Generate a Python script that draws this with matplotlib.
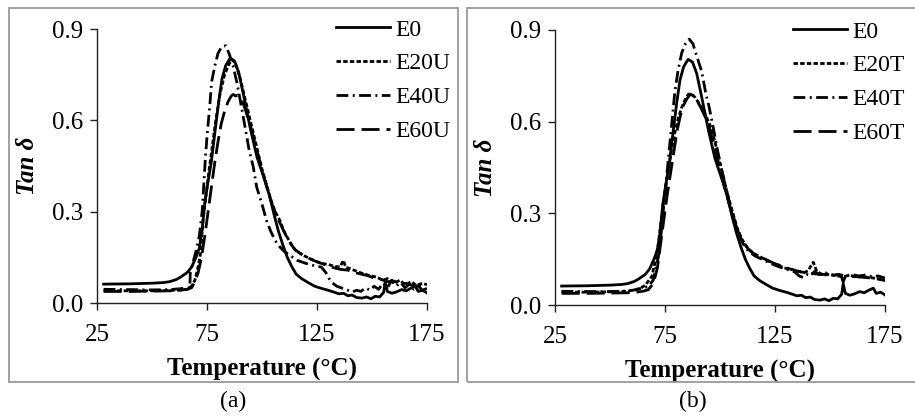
import matplotlib
matplotlib.use("Agg")
import matplotlib.pyplot as plt
from matplotlib.patches import Rectangle

plt.rcParams['font.family'] = ['Liberation Serif', 'DejaVu Serif']
plt.rcParams['lines.scale_dashes'] = False

# ---------------- data ----------------
# E0 (shared by both panels)
T_E0 = [28, 40, 50, 55, 58, 61, 63, 66, 68, 70, 71.5, 72.7, 74, 75.5, 77, 78.8, 80.3, 81.8, 83.5, 85.5,
        87.5, 89.4, 91.7, 94.7, 97.7, 100, 101.5, 103.5, 105.5, 107.5, 109.5, 111.5, 113.5, 115.5, 118,
        121, 124, 127, 130, 133, 135, 137, 139, 141, 143, 145.5, 147.5, 149.5, 151.5, 153.5, 155.3, 156,
        157, 159, 161, 163.5, 165.5, 167.5, 169.7, 171, 173, 175]
v_E0 = [0.062, 0.063, 0.065, 0.067, 0.07, 0.077, 0.085, 0.1, 0.118, 0.15, 0.18, 0.235, 0.33, 0.40, 0.465,
        0.573, 0.66, 0.736, 0.78, 0.804, 0.795, 0.758, 0.68, 0.573, 0.48, 0.43, 0.398, 0.35, 0.29, 0.235,
        0.19, 0.15, 0.12, 0.095, 0.08, 0.067, 0.055, 0.048, 0.042, 0.035, 0.03, 0.032, 0.024, 0.026, 0.018,
        0.016, 0.02, 0.014, 0.022, 0.02, 0.035, 0.07, 0.038, 0.032, 0.036, 0.044, 0.04, 0.048, 0.055, 0.038,
        0.042, 0.033]

# Panel (a)
T_E20U = [28, 40, 50, 58, 63, 66, 68, 69.5, 71, 72, 73.2, 74.5, 76, 77.5, 79, 81, 83, 85, 86.5, 88, 90, 92,
          94, 96, 98, 100, 102, 104, 106, 108.2, 110, 112.7, 115, 117.3, 120, 122, 124.9, 127, 130, 133,
          135.5, 137, 138, 141, 144.5, 148, 152, 155, 157, 160, 162.7, 165, 168, 170, 173, 175]
v_E20U = [0.04, 0.04, 0.04, 0.041, 0.043, 0.045, 0.055, 0.075, 0.12, 0.16, 0.27, 0.35, 0.44, 0.52, 0.6,
          0.69, 0.75, 0.785, 0.80, 0.785, 0.74, 0.68, 0.62, 0.56, 0.5, 0.44, 0.39, 0.34, 0.3, 0.27, 0.235,
          0.2, 0.175, 0.163, 0.152, 0.145, 0.136, 0.13, 0.127, 0.12, 0.119, 0.14, 0.118, 0.11, 0.1, 0.092,
          0.085, 0.075, 0.08, 0.065, 0.075, 0.06, 0.07, 0.058, 0.065, 0.06]

T_E40U = [28, 40, 50, 58, 63, 66, 67.2, 67.4, 68.5, 70, 71.5, 72.8, 74.3, 75, 76.4, 77.1, 78.6, 80, 81.7,
          83.5, 85, 86.8, 88.5, 90, 91.5, 93, 94.2, 96, 97.6, 99.9, 102.1, 104, 106, 108, 110, 113, 116,
          120, 124, 127, 129, 130.5, 132, 134, 136, 138, 141, 143, 145, 147, 149, 151, 153, 155, 157, 159,
          161, 163, 165, 167, 169, 171, 173, 175]
v_E40U = [0.045, 0.044, 0.043, 0.044, 0.047, 0.05, 0.05, 0.1, 0.13, 0.17, 0.22, 0.3, 0.48, 0.546, 0.66,
          0.727, 0.78, 0.82, 0.842, 0.845, 0.82, 0.78, 0.727, 0.67, 0.61, 0.55, 0.50, 0.448, 0.38, 0.327,
          0.27, 0.235, 0.205, 0.185, 0.17, 0.155, 0.14, 0.13, 0.122, 0.118, 0.1, 0.08, 0.066, 0.055, 0.05,
          0.045, 0.036, 0.042, 0.038, 0.05, 0.042, 0.055, 0.045, 0.065, 0.05, 0.075, 0.055, 0.068, 0.05,
          0.062, 0.045, 0.055, 0.042, 0.048]

T_E60U = [28, 40, 50, 58, 63, 66, 68, 69.5, 71, 72.5, 74, 75.5, 77, 78.5, 80, 81.5, 83, 84.5, 86, 87, 88,
          89, 90.5, 92, 93.5, 95, 97, 99, 101, 103, 105, 107, 109, 111, 113, 115, 118, 121, 124, 127, 130,
          133, 136, 139, 142, 145, 148, 151, 154, 157, 160, 163, 166, 169, 172, 175]
v_E60U = [0.038, 0.038, 0.039, 0.04, 0.042, 0.045, 0.05, 0.07, 0.1, 0.15, 0.22, 0.3, 0.38, 0.46, 0.53,
          0.59, 0.63, 0.66, 0.68, 0.685, 0.68, 0.683, 0.67, 0.645, 0.61, 0.575, 0.52, 0.465, 0.41, 0.36,
          0.315, 0.28, 0.25, 0.22, 0.195, 0.175, 0.16, 0.148, 0.138, 0.13, 0.122, 0.115, 0.11, 0.108, 0.1,
          0.095, 0.09, 0.082, 0.078, 0.07, 0.072, 0.062, 0.065, 0.055, 0.058, 0.052]

# Panel (b)
T_E20T = [28, 40, 50, 58, 61.4, 64, 66, 69, 70.5, 72, 73.5, 75, 76.5, 78, 79.5, 81, 82.5, 84, 85.6, 87,
          88.6, 90, 91.7, 93.5, 95.4, 97.5, 99.5, 101.5, 103.5, 105.5, 107.6, 110, 112.2, 115, 118.2, 121,
          124.2, 127, 130, 133.3, 136, 138, 140, 142.4, 144, 147, 150, 153, 156, 159, 162, 165, 168, 171,
          174.2, 175]
v_E20T = [0.042, 0.042, 0.043, 0.045, 0.05, 0.055, 0.065, 0.093, 0.14, 0.2, 0.29, 0.37, 0.44, 0.51, 0.565,
          0.61, 0.645, 0.67, 0.69, 0.69, 0.68, 0.665, 0.645, 0.62, 0.59, 0.54, 0.48, 0.42, 0.36, 0.31,
          0.256, 0.215, 0.19, 0.17, 0.158, 0.147, 0.136, 0.128, 0.12, 0.115, 0.11, 0.105, 0.112, 0.14,
          0.11, 0.098, 0.1, 0.095, 0.093, 0.097, 0.092, 0.093, 0.09, 0.087, 0.082, 0.08]

T_E40T = [28, 40, 50, 58, 62, 65, 67.4, 69.7, 72, 73.2, 74.5, 76, 77.5, 79.5, 81, 82.6, 84.3, 86, 87.7,
          89.4, 91.7, 93.6, 95, 96.7, 98.5, 100.5, 102.5, 104.5, 106.5, 108.5, 110.5, 113, 116, 119, 122,
          125, 128, 131, 134, 136, 137.8, 139.5, 141, 143, 145, 148, 151, 154, 157, 160, 163, 166, 169, 172,
          175]
v_E40T = [0.045, 0.044, 0.044, 0.046, 0.05, 0.057, 0.06, 0.082, 0.158, 0.23, 0.33, 0.44, 0.55, 0.70, 0.77,
          0.825, 0.855, 0.87, 0.855, 0.815, 0.764, 0.69, 0.65, 0.59, 0.52, 0.45, 0.39, 0.33, 0.28, 0.235,
          0.2, 0.175, 0.16, 0.15, 0.14, 0.13, 0.122, 0.115, 0.108, 0.095, 0.09, 0.1, 0.095, 0.11, 0.1,
          0.105, 0.098, 0.1, 0.095, 0.1, 0.095, 0.098, 0.093, 0.095, 0.088]

T_E60T = [28, 40, 50, 58, 62, 65, 67.4, 69.7, 71.5, 73, 74.5, 76, 77.5, 79, 80.5, 82, 83.5, 85, 86.5, 88,
          89.5, 91, 93, 95, 97, 99, 101, 103, 105, 107, 109, 111, 113.5, 116, 119, 122, 125, 128, 131, 134,
          137, 140, 143, 146, 149, 152, 155, 156, 157, 160, 163, 166, 169, 172, 175]
v_E60T = [0.038, 0.038, 0.039, 0.04, 0.042, 0.045, 0.05, 0.07, 0.12, 0.2, 0.28, 0.36, 0.43, 0.5, 0.57,
          0.62, 0.655, 0.675, 0.69, 0.685, 0.67, 0.65, 0.62, 0.585, 0.535, 0.475, 0.415, 0.36, 0.31, 0.265,
          0.225, 0.2, 0.178, 0.165, 0.155, 0.145, 0.135, 0.128, 0.12, 0.113, 0.108, 0.105, 0.102, 0.1, 0.1,
          0.098, 0.097, 0.075, 0.095, 0.094, 0.092, 0.09, 0.088, 0.085, 0.08]

labels_a = ["E0", "E20U", "E40U", "E60U"]
labels_b = ["E0", "E20T", "E40T", "E60T"]
x_ticks = [25, 75, 125, 175]
y_ticks = [0.0, 0.3, 0.6, 0.9]
captions = ["(a)", "(b)"]

# ---------------- styling ----------------
W, H = 915, 419
fig = plt.figure(figsize=(W / 100, H / 100), dpi=100)

styles = [
    dict(linestyle='-'),
    dict(dashes=(3.2, 1.6)),
    dict(dashes=(8.5, 3.2, 1.4, 3.2)),
    dict(dashes=(13, 5)),
]

def px_ax(x0, x1, ytop, ybot):
    return [x0 / W, 1 - ybot / H, (x1 - x0) / W, (ybot - ytop) / H]

panels = [
    dict(rect=px_ax(97, 427, 29, 303), series=[(T_E0, v_E0), (T_E20U, v_E20U), (T_E40U, v_E40U), (T_E60U, v_E60U)],
         labels=labels_a, leg=(336, 19), cap_x=233, frame=(8.5, 458)),
    dict(rect=px_ax(555, 885, 30, 305), series=[(T_E0, v_E0), (T_E20T, v_E20T), (T_E40T, v_E40T), (T_E60T, v_E60T)],
         labels=labels_b, leg=(793, 21), cap_x=693, frame=(467, 930)),
]

for i, p in enumerate(panels):
    ax = fig.add_axes(p["rect"])
    handles = []
    for (t, v), st, lab in zip(p["series"], styles, p["labels"]):
        h, = ax.plot(t, v, color='black', lw=2.0, label=lab, **st)
        handles.append(h)
    ax.set_xlim(25, 175)
    ax.set_ylim(0, 0.9)
    ax.set_xticks(x_ticks)
    ax.set_yticks(y_ticks)
    ax.set_yticklabels([f"{y:.1f}" for y in y_ticks])
    for s in ['top', 'right']:
        ax.spines[s].set_visible(False)
    for s in ['left', 'bottom']:
        ax.spines[s].set_linewidth(1.0)
        ax.spines[s].set_color('#222222')
    ax.tick_params(axis='both', direction='out', length=5, width=1.0, color='#222222', labelsize=18)
    ax.tick_params(axis='x', pad=10)
    ax.tick_params(axis='y', pad=5)
    ax.set_xlabel("Temperature (°C)", fontsize=18, fontweight='bold', labelpad=9)
    ax.set_ylabel("Tan δ", fontsize=18, fontweight='bold', fontstyle='italic', labelpad=9)
    lx, ly = p["leg"]
    fig.legend(handles=handles, loc='upper left', bbox_to_anchor=(lx / W, 1 - ly / H),
               frameon=False, fontsize=17, handlelength=2.3, handletextpad=0.2,
               labelspacing=0.52, borderpad=0, borderaxespad=0)
    fig.text(p["cap_x"] / W, 1 - 401 / H, captions[i], ha='center', va='center', fontsize=17)
    fx0, fx1 = p["frame"]
    fig.patches.append(Rectangle((fx0 / W, 1 - 382 / H), (fx1 - fx0) / W, (382 - 8.5) / H,
                                 transform=fig.transFigure, fill=False, edgecolor='#9a9a9a', lw=1.3))

fig.savefig("out.png", dpi=100)
